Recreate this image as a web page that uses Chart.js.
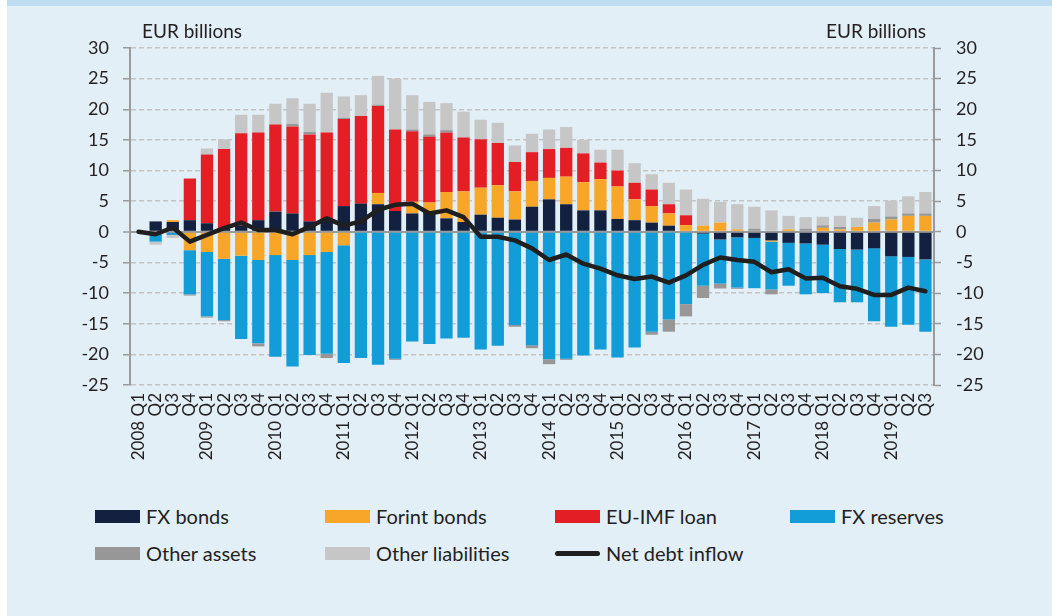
<!DOCTYPE html>
<html><head><meta charset="utf-8">
<script src="https://cdn.jsdelivr.net/npm/chart.js@4.4.1/dist/chart.umd.min.js"></script>
<style>
html,body{margin:0;padding:0;}
body{width:1052px;height:616px;background:#e2eff7;position:relative;overflow:hidden;font-family:Lato,"Open Sans",sans-serif;color:#231f20;}
#band{position:absolute;left:7px;top:0;width:1045px;height:6px;background:#bcdcf0;}
#white{position:absolute;left:0;top:0;width:7px;height:616px;background:#fff;}
#wrap{position:absolute;left:0;top:0;width:1052px;height:470px;}
.unit{position:absolute;top:20px;font-size:19px;line-height:22px;}
.leg{position:absolute;font-size:20px;line-height:24px;white-space:nowrap;}
.sw{position:absolute;width:45px;height:13px;}
.ln{position:absolute;width:45px;height:5px;border-radius:3px;background:#1f1f1f;}
</style></head>
<body>
<div id="white"></div><div id="band"></div>
<div id="wrap"><canvas id="c" width="1052" height="470"></canvas></div>
<div class="unit" style="left:142px;">EUR billions</div>
<div class="unit" style="right:126px;">EUR billions</div>
<div id="legend"></div>
<script>
const categories = ["2008 Q1","Q2","Q3","Q4","2009 Q1","Q2","Q3","Q4","2010 Q1","Q2","Q3","Q4","2011 Q1","Q2","Q3","Q4","2012 Q1","Q2","Q3","Q4","2013 Q1","Q2","Q3","Q4","2014 Q1","Q2","Q3","Q4","2015 Q1","Q2","Q3","Q4","2016 Q1","Q2","Q3","Q4","2017 Q1","Q2","Q3","Q4","2018 Q1","Q2","Q3","Q4","2019 Q1","Q2","Q3"];
const fxBonds = [0,1.7,1.6,1.9,1.4,0.5,1.0,1.9,3.3,3.0,1.7,2.0,4.2,4.6,4.5,3.4,3.0,3.4,2.2,1.6,2.8,2.3,2.0,4.1,5.3,4.5,3.5,3.5,2.1,1.9,1.5,1.0,0,-0.3,-1.25,-0.9,-1.0,-1.4,-1.8,-1.9,-2.1,-2.8,-2.9,-2.7,-4.0,-4.1,-4.5];
const forintBonds = [0,-0.3,0.3,-3.0,-3.3,-4.4,-3.9,-4.6,-3.8,-4.6,-3.8,-3.3,-2.2,0,1.85,0,1.9,1.4,4.3,5.0,4.4,5.3,4.6,4.2,3.5,4.5,4.6,5.1,5.3,3.4,2.7,2.0,1.1,1.0,1.5,0.4,0,-0.2,0.4,0,0.65,0.4,0.8,1.5,2.0,2.6,2.6];
const euImfLoan = [0,0,0,6.8,11.2,13.0,15.1,14.3,14.2,14.2,14.2,14.2,14.2,14.3,14.2,13.3,11.5,10.7,9.7,8.8,7.9,6.9,4.8,4.7,4.7,4.7,4.7,2.7,2.6,2.7,2.7,1.5,1.6,0,0,0,0,0,0,0,0,0,0,0,0,0,0];
const fxReserves = [0,-1.3,-0.5,-7.2,-10.5,-10.0,-13.6,-13.6,-16.6,-17.4,-16.3,-16.6,-19.2,-20.6,-21.7,-20.7,-17.9,-18.3,-17.4,-17.3,-19.2,-18.6,-15.2,-18.5,-20.8,-20.7,-20.2,-19.2,-20.5,-18.9,-16.3,-14.3,-11.8,-8.5,-7.2,-8.2,-8.2,-7.8,-7.0,-8.3,-7.9,-8.7,-8.6,-11.9,-11.5,-11.05,-11.8];
const otherAssets = [0,0,0,-0.2,-0.2,-0.2,0,-0.5,0,0.4,0.4,-0.7,0.2,0,0.2,-0.2,0.3,0.4,0.4,0,0,0,-0.3,-0.5,-0.8,-0.2,0,0,0,0,-0.5,-2.0,-2.0,-2.0,-0.8,-0.2,0.5,-0.8,0,0.5,0.4,0.4,0,0.6,0.5,0.4,0.4];
const otherLiabilities = [0,-0.5,-0.5,0,1.0,1.6,3.0,2.9,3.4,4.2,4.6,6.5,3.5,3.4,4.7,8.3,5.6,5.3,4.4,4.2,3.2,3.3,2.7,3.0,3.2,3.4,2.2,2.1,3.4,3.2,2.5,3.5,4.2,4.4,3.4,4.1,3.6,3.5,2.2,1.9,1.4,1.8,1.5,2.1,2.6,2.8,3.5];
const netDebtInflow = [0,-0.4,0.7,-1.6,-0.5,0.6,1.5,0.3,0.3,-0.4,0.8,2.2,1.0,1.7,3.6,4.4,4.6,3.0,3.5,2.4,-0.8,-0.8,-1.4,-2.7,-4.6,-3.7,-5.2,-6.0,-7.1,-7.7,-7.3,-8.3,-7.1,-5.4,-4.2,-4.6,-4.9,-6.6,-6.1,-7.6,-7.5,-8.9,-9.3,-10.3,-10.3,-9.1,-9.7];
const yTicks = [30,25,20,15,10,5,0,-5,-10,-15,-20,-25];

const seriesNames = ["FX bonds","Forint bonds","EU-IMF loan","FX reserves","Other assets","Other liabilities","Net debt inflow"];
const seriesColors = ["#13203f","#f8a628","#e31e24","#139dd8","#979797","#c6c6c6","#1f1f1f"];
const barSeries = [fxBonds,forintBonds,euImfLoan,fxReserves,otherAssets,otherLiabilities];

const FONT = "Lato, 'Open Sans', sans-serif";
const datasets = barSeries.map((d,i)=>({
  type:'bar', label:seriesNames[i], data:d, backgroundColor:seriesColors[i],
  stack:'s', order:1, categoryPercentage:1, barPercentage:0.72, yAxisID:'y'
}));
datasets.push({type:'line', label:seriesNames[6], data:netDebtInflow, borderColor:seriesColors[6],
  borderWidth:4.5, pointRadius:0, tension:0, stack:'line', order:0, yAxisID:'y', borderCapStyle:'round', borderJoinStyle:'round'});

const axisGrey = '#9a9a9a';
new Chart(document.getElementById('c'), {
  data:{labels:categories, datasets},
  options:{
    responsive:false, animation:false, devicePixelRatio:1,
    layout:{padding:{top:48,left:0,right:0,bottom:0}},
    plugins:{legend:{display:false}, tooltip:{enabled:false}},
    scales:{
      x:{stacked:true, grid:{display:false, drawTicks:false}, border:{display:false},
         ticks:{autoSkip:false, minRotation:90, maxRotation:90, padding:8, color:'#231f20', font:{family:FONT,size:17}},
         afterFit:s=>{s.height=85;}},
      y:{stacked:true, position:'left', min:-25, max:30,
         afterBuildTicks:s=>{s.ticks=yTicks.map(v=>({value:v}));},
         grid:{color:ctx=>ctx.tick && ctx.tick.value===0 ? axisGrey : '#c4c4c4',
               lineWidth:ctx=>ctx.tick && ctx.tick.value===0 ? 2 : 1.5,
               tickColor:axisGrey, tickLength:7, tickWidth:1.5},
         border:{display:true, color:axisGrey, width:2, dash:ctx=>ctx.tick && ctx.tick.value===0 ? [] : [5,3]},
         ticks:{padding:14, color:'#231f20', font:{family:FONT,size:18}},
         afterFit:s=>{s.width=130;}},
      y2:{position:'right', min:-25, max:30,
         afterBuildTicks:s=>{s.ticks=yTicks.map(v=>({value:v}));},
         grid:{drawOnChartArea:false, color:axisGrey, tickColor:axisGrey, tickLength:7, tickWidth:1.5},
         border:{display:true, color:axisGrey, width:2},
         ticks:{padding:15, color:'#231f20', font:{family:FONT,size:18}},
         afterFit:s=>{s.width=118;}}
    }
  }
});

// HTML legend
const legPos = [[95,510],[325,510],[555,510],[790,510],[95,547],[325,547],[555,547]];
const legend = document.getElementById('legend');
seriesNames.forEach((n,i)=>{
  const [x,y] = legPos[i];
  const sw = document.createElement('div');
  if(i===6){ sw.className='ln'; sw.style.left=x+'px'; sw.style.top=(y+4)+'px'; }
  else { sw.className='sw'; sw.style.left=x+'px'; sw.style.top=y+'px'; sw.style.background=seriesColors[i]; }
  legend.appendChild(sw);
  const t = document.createElement('div');
  t.className='leg'; t.textContent=n; t.style.left=(x+51)+'px'; t.style.top=(y-6)+'px';
  legend.appendChild(t);
});
</script>
</body></html>
